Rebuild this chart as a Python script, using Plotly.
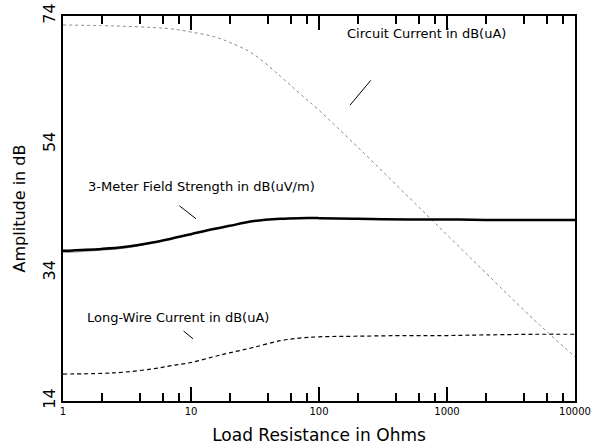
import plotly.graph_objects as go

# Load resistance (Ohms)
resistance = [1, 2, 3, 5, 7, 10, 15, 20, 30, 50, 70, 100, 200, 500, 1000, 2000, 5000, 10000]

# Circuit current in dB(uA)
circuit_current = [72.6, 72.5, 72.4, 72.2, 72.0, 71.5, 70.8, 69.9, 68.2, 64.6, 62.0, 59.3, 53.6, 45.8, 39.9, 34.0, 26.3, 20.9]

# 3-meter field strength in dB(uV/m)
field_strength = [37.4, 37.7, 38.0, 38.7, 39.3, 40.0, 40.8, 41.3, 42.0, 42.4, 42.5, 42.5, 42.4, 42.3, 42.3, 42.2, 42.2, 42.2]
field_strength_alt = [37.1, 37.5, 37.8, 38.6, 39.3, 40.0, 40.8, 41.3, 42.0, 42.4, 42.5, 42.5, 42.4, 42.3, 42.3, 42.2, 42.2, 42.2]

# Long-wire current in dB(uA)
long_wire_current = [18.2, 18.3, 18.5, 19.0, 19.5, 20.0, 20.9, 21.5, 22.3, 23.4, 23.8, 24.0, 24.1, 24.2, 24.2, 24.3, 24.4, 24.4]

decades = [1, 10, 100, 1000, 10000]
decade_labels = ["1", "10", "100", "1000", "10000"]
minor_steps = [2, 4, 6, 8]
y_tickvals = [14, 34, 54, 74]

x_all = []
x_all_text = []
for i, d in enumerate(decades):
    x_all.append(d)
    x_all_text.append(decade_labels[i])
    if d < 10000:
        for m in minor_steps:
            x_all.append(m * d)
            x_all_text.append("")

FONT = "DejaVu Sans"

fig = go.Figure()
fig.add_trace(go.Scatter(x=resistance, y=circuit_current, mode="lines",
                         line=dict(color="#8a8a8a", width=1, dash="dot", shape="spline"),
                         name="Circuit Current"))
fig.add_trace(go.Scatter(x=resistance, y=field_strength_alt, mode="lines",
                         line=dict(color="#9a9a9a", width=1, shape="spline"),
                         name="Field Strength alt"))
fig.add_trace(go.Scatter(x=resistance, y=field_strength, mode="lines",
                         line=dict(color="black", width=2.5, shape="spline"),
                         name="3-Meter Field Strength"))
fig.add_trace(go.Scatter(x=resistance, y=long_wire_current, mode="lines",
                         line=dict(color="black", width=1.2, dash="4px,3px", shape="spline"),
                         name="Long-Wire Current"))

labels = [
    ("Circuit Current in dB(uA)", 2.203, 71.35),
    ("3-Meter Field Strength in dB(uV/m)", 0.18, 47.4),
    ("Long-Wire Current in dB(uA)", 0.172, 26.95),
]
for text, lx, ly in labels:
    fig.add_annotation(x=lx, y=ly, xref="x", yref="y", text=text, showarrow=False,
                       xanchor="left", yanchor="middle",
                       font=dict(family=FONT, size=13, color="black"))

pointers = [
    (2.414, 64.2, 2.242, 60.1),
    (0.898, 44.6, 1.039, 42.4),
    (0.93, 25.1, 1.016, 23.7),
]
for x0, y0, x1, y1 in pointers:
    fig.add_annotation(x=x1, y=y1, ax=x0, ay=y0, xref="x", yref="y", axref="x", ayref="y",
                       text="", showarrow=True, arrowhead=0, arrowwidth=1, arrowcolor="black")

tick_axis_common = dict(
    type="log", range=[0, 4], overlaying="x", automargin=False,
    tickmode="array", ticks="inside", tickcolor="black",
    showgrid=False, zeroline=False, showticklabels=False,
    showline=True, linecolor="black", linewidth=2,
)

fig.update_layout(
    width=592, height=446,
    margin=dict(l=63, r=17, t=16, b=45),
    paper_bgcolor="white", plot_bgcolor="white",
    showlegend=False,
    font=dict(family=FONT, color="black"),
    xaxis=dict(
        type="log", range=[0, 4], automargin=False,
        tickmode="array", tickvals=x_all, ticktext=x_all_text,
        ticks="inside", ticklen=8, tickwidth=1.5, tickcolor="black",
        showgrid=False, zeroline=False, layer="above traces",
        showline=True, linecolor="black", linewidth=2, mirror=True,
        tickfont=dict(family=FONT, size=10),
        title=dict(text="Load Resistance in Ohms", font=dict(family=FONT, size=17), standoff=13),
    ),
    xaxis2=dict(tick_axis_common, side="bottom", tickvals=decades, ticklen=14, tickwidth=2),
    xaxis3=dict(tick_axis_common, side="top", tickvals=x_all, ticklen=8, tickwidth=1.5),
    xaxis4=dict(tick_axis_common, side="top", tickvals=decades, ticklen=14, tickwidth=2),
    yaxis=dict(
        range=[14, 74], automargin=False,
        tickmode="array", tickvals=y_tickvals,
        ticks="", tickangle=-90,
        showgrid=False, zeroline=False,
        showline=True, linecolor="black", linewidth=2, mirror=True,
        tickfont=dict(family=FONT, size=16),
        title=dict(text="Amplitude in dB", font=dict(family=FONT, size=16), standoff=10),
    ),
)

# invisible traces bound to the overlay tick axes so their ticks are drawn
for ax_name in ["x2", "x3", "x4"]:
    fig.add_trace(go.Scatter(x=[decades[0], decades[-1]], y=[y_tickvals[0], y_tickvals[0]],
                             xaxis=ax_name, mode="lines", line=dict(width=0), opacity=0,
                             hoverinfo="skip", showlegend=False))

fig.write_html("out.html", config={"displayModeBar": False},
               post_script="document.body.style.margin='0';document.body.style.padding='0';")
